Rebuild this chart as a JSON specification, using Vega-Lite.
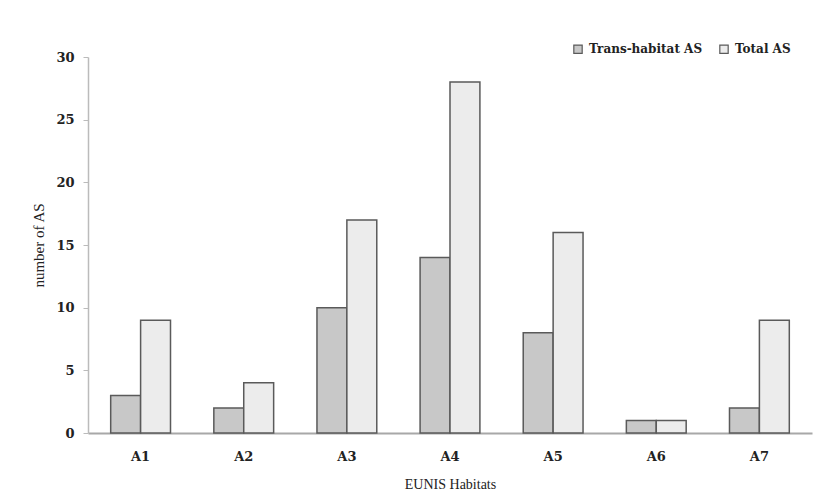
{
  "$schema": "https://vega.github.io/schema/vega-lite/v6.json",
  "autosize": "none",
  "width": 724,
  "height": 376,
  "padding": {"left": 88, "top": 57, "right": 18, "bottom": 69},
  "background": "white",
  "data": {
    "values": [
      {"habitat": "A1", "series": "Trans-habitat AS", "value": 3},
      {"habitat": "A1", "series": "Total AS", "value": 9},
      {"habitat": "A2", "series": "Trans-habitat AS", "value": 2},
      {"habitat": "A2", "series": "Total AS", "value": 4},
      {"habitat": "A3", "series": "Trans-habitat AS", "value": 10},
      {"habitat": "A3", "series": "Total AS", "value": 17},
      {"habitat": "A4", "series": "Trans-habitat AS", "value": 14},
      {"habitat": "A4", "series": "Total AS", "value": 28},
      {"habitat": "A5", "series": "Trans-habitat AS", "value": 8},
      {"habitat": "A5", "series": "Total AS", "value": 16},
      {"habitat": "A6", "series": "Trans-habitat AS", "value": 1},
      {"habitat": "A6", "series": "Total AS", "value": 1},
      {"habitat": "A7", "series": "Trans-habitat AS", "value": 2},
      {"habitat": "A7", "series": "Total AS", "value": 9}
    ]
  },
  "mark": {"type": "bar", "stroke": "#5a5a5a", "strokeWidth": 1.5},
  "encoding": {
    "x": {
      "field": "habitat",
      "type": "nominal",
      "scale": {"paddingInner": 0.42, "paddingOuter": 0.22},
      "axis": {
        "title": "EUNIS Habitats",
        "labelAngle": 0,
        "ticks": false,
        "domainColor": "#a8a8a8",
        "domainWidth": 2,
        "labelFont": "DejaVu Serif",
        "labelFontWeight": "bold",
        "labelFontSize": 13,
        "labelColor": "#222",
        "labelPadding": 17,
        "titleFont": "Liberation Serif",
        "titleFontWeight": "normal",
        "titleFontSize": 14,
        "titleColor": "#222",
        "titlePadding": 14
      }
    },
    "xOffset": {"field": "series", "type": "nominal", "sort": ["Trans-habitat AS", "Total AS"]},
    "y": {
      "field": "value",
      "type": "quantitative",
      "scale": {"domain": [0, 30]},
      "axis": {
        "title": "number of AS",
        "values": [0, 5, 10, 15, 20, 25, 30],
        "grid": false,
        "domainColor": "#bbbbbb",
        "domainWidth": 1.5,
        "tickColor": "#bbbbbb",
        "tickSize": 5,
        "labelFont": "DejaVu Serif",
        "labelFontWeight": "bold",
        "labelFontSize": 13,
        "labelColor": "#222",
        "labelPadding": 9,
        "titleFont": "Liberation Serif",
        "titleFontWeight": "normal",
        "titleFontSize": 15,
        "titleColor": "#222",
        "titlePadding": 9
      }
    },
    "color": {
      "field": "series",
      "type": "nominal",
      "sort": ["Trans-habitat AS", "Total AS"],
      "scale": {"domain": ["Trans-habitat AS", "Total AS"], "range": ["#c8c8c8", "#ececec"]},
      "legend": {
        "title": null,
        "orient": "none",
        "direction": "horizontal",
        "legendX": 484,
        "legendY": -14,
        "symbolType": "square",
        "symbolSize": 70,
        "symbolStrokeColor": "#5a5a5a",
        "symbolStrokeWidth": 1.2,
        "labelFont": "DejaVu Serif",
        "labelFontWeight": "bold",
        "labelFontSize": 12,
        "labelColor": "#222",
        "labelOffset": 5,
        "columnPadding": 14
      }
    }
  },
  "config": {"view": {"stroke": null}}
}
